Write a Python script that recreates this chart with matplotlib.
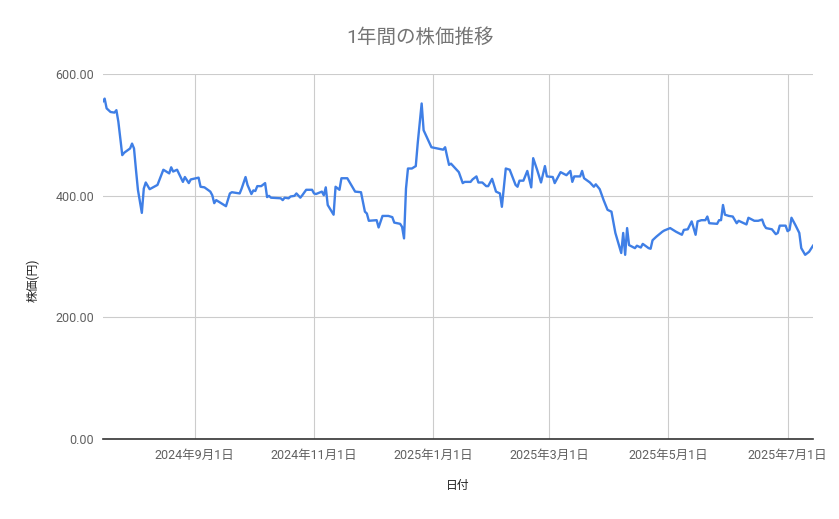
import matplotlib
matplotlib.use("Agg")
import matplotlib.pyplot as plt
import matplotlib.dates as mdates
import pandas as pd

plt.rcParams['font.family'] = ['Roboto', 'Noto Sans CJK JP', 'DejaVu Sans']

# values (day offset from 2024-07-16, price in yen)
start_date = "2024-07-16"
day_offsets = [
    0, 1, 2, 4, 6, 7, 8, 10, 11, 14, 15, 16, 17, 18, 20, 21, 22, 24, 28, 31,
    34, 35, 36, 38, 41, 42, 44, 45, 49, 50, 52, 55, 56, 57, 58, 63, 65, 66, 70, 71,
    73, 74, 76, 77, 78, 79, 81, 83, 84, 85, 86, 91, 92, 93, 95, 96, 98, 99, 101, 102,
    104, 107, 108, 109, 112, 113, 114, 115, 118, 119, 121, 122, 125, 127, 129, 132, 134, 135, 136, 140,
    141, 143, 146, 148, 149, 152, 153, 154, 155, 156, 158, 160, 161, 163, 164, 168, 171, 174, 175, 176,
    177, 178, 182, 184, 185, 188, 189, 191, 192, 194, 196, 197, 199, 201, 203, 204, 206, 208, 211, 212,
    213, 215, 217, 219, 220, 222, 224, 226, 227, 230, 231, 234, 237, 239, 240, 241, 244, 245, 246, 249,
    251, 252, 254, 256, 258, 260, 262, 265, 266, 267, 268, 269, 272, 273, 275, 276, 279, 280, 281, 283,
    286, 287, 290, 293, 296, 297, 299, 301, 303, 304, 306, 308, 309, 310, 314, 315, 316, 317, 318, 320,
    322, 324, 325, 329, 330, 333, 335, 337, 338, 339, 342, 344, 345, 346, 349, 350, 351, 352, 354, 356,
    357, 359, 361, 363,
]
prices = [
    555, 560, 544, 538, 537, 541, 522, 467, 471, 478, 486, 478, 443, 410, 372, 412, 422, 411, 418, 443,
    437, 447, 440, 443, 423, 431, 421, 427, 430, 415, 414, 407, 401, 388, 393, 383, 404, 406, 404, 412,
    431, 418, 403, 409, 408, 416, 416, 421, 398, 400, 397, 396, 393, 397, 396, 399, 400, 404, 397, 401,
    410, 410, 404, 403, 407, 401, 414, 385, 369, 415, 410, 429, 429, 418, 407, 406, 374, 371, 359, 360,
    348, 367, 367, 365, 356, 354, 349, 330, 412, 445, 445, 449, 487, 552, 508, 480, 478, 476, 480, 465,
    451, 453, 439, 421, 423, 423, 427, 432, 422, 422, 416, 416, 428, 407, 404, 382, 445, 443, 418, 415,
    425, 425, 441, 414, 462, 443, 422, 449, 432, 431, 421, 439, 434, 441, 423, 432, 432, 441, 429, 422,
    415, 419, 411, 393, 377, 374, 339, 306, 339, 303, 347, 319, 314, 318, 315, 321, 314, 313, 327, 333,
    341, 343, 347, 341, 336, 344, 345, 358, 336, 358, 360, 360, 366, 355, 354, 360, 360, 385, 369, 367,
    366, 355, 359, 353, 364, 359, 359, 361, 352, 347, 345, 337, 339, 351, 351, 342, 344, 364, 352, 339,
    314, 303, 308, 318,
]
x_ticks = ["2024-09-01", "2024-11-01", "2025-01-01", "2025-03-01", "2025-05-01", "2025-07-01"]
x_tick_labels = ["2024年9月1日", "2024年11月1日", "2025年1月1日", "2025年3月1日", "2025年5月1日", "2025年7月1日"]
y_ticks = [0, 200, 400, 600]

dates = pd.Timestamp(start_date) + pd.to_timedelta(day_offsets, unit="D")

fig = plt.figure(figsize=(8.39, 5.19), dpi=100)
ax = fig.add_axes([102.7 / 839, 1 - 439 / 519, (813 - 102.7) / 839, (439 - 74.3) / 519])

ax.plot(dates, prices, color="#3f7fe6", linewidth=1.7, solid_joinstyle="round")

ax.set_xlim(dates[0], dates[-1])
ax.set_ylim(0, 600)
ax.set_yticks(y_ticks)
ax.set_yticklabels([f"{v:.2f}" for v in y_ticks])
ax.set_xticks(pd.to_datetime(x_ticks))
ax.set_xticklabels(x_tick_labels)

ax.grid(True, color="#cccccc", linewidth=0.8)
ax.set_axisbelow(True)
for side in ["top", "right", "left"]:
    ax.spines[side].set_visible(False)
ax.spines["bottom"].set_color("#333333")
ax.spines["bottom"].set_linewidth(1.2)
ax.spines["bottom"].set_zorder(3)
ax.tick_params(axis="both", length=0, labelsize=9, labelcolor="#616161")
ax.tick_params(axis="x", pad=7)
ax.tick_params(axis="y", pad=6)

fig.text(420 / 839, 1 - 38 / 519, "1年間の株価推移", ha="center", va="center",
         fontsize=14, color="#757575")
fig.text(458 / 839, 1 - 486 / 519, "日付", ha="center", va="center",
         fontsize=8.5, color="#222222")
fig.text(33 / 839, 1 - 280 / 519, "株価(円)", ha="center", va="center",
         rotation=90, fontsize=8.5, color="#222222")

fig.savefig("out.png", dpi=100)
